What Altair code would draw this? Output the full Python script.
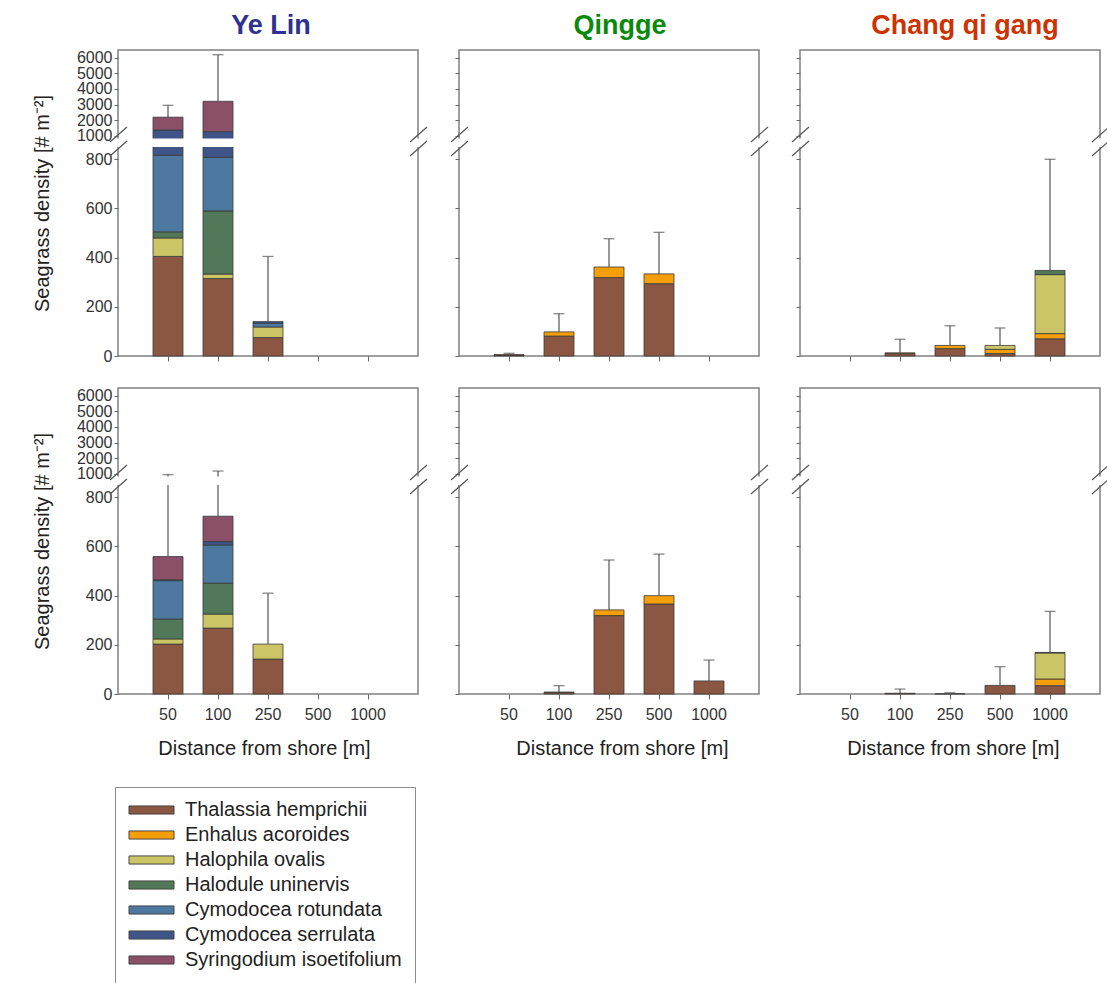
import altair as alt
import pandas as pd

FONT = "Liberation Sans"

SITES = ["Ye Lin", "Qingge", "Chang qi gang"]
SITE_COLORS = ["#2E3192", "#0A8A0A", "#CC3300"]
DISTANCES = ["50", "100", "250", "500", "1000"]
SPECIES = [
    "Thalassia hemprichii",
    "Enhalus acoroides",
    "Halophila ovalis",
    "Halodule uninervis",
    "Cymodocea rotundata",
    "Cymodocea serrulata",
    "Syringodium isoetifolium",
]
SPECIES_COLORS = ["#8B5742", "#F49F0A", "#CBC566", "#52785A", "#4D79A0", "#3F5589", "#8B4F68"]
Y_TICKS = [0, 200, 400, 600, 800, 1000, 2000, 3000, 4000, 5000, 6000]
Y_TITLE = "Seagrass density [# m\u207b\u00b2]"
X_TITLE = "Distance from shore [m]"

# densities per species (order of SPECIES) at 50, 100, 250, 500, 1000 m
YELIN_TOP = [
    [405, 315, 75, 0, 0],
    [0, 0, 0, 0, 0],
    [75, 18, 43, 0, 0],
    [25, 257, 0, 0, 0],
    [312, 218, 15, 0, 0],
    [552, 452, 7, 0, 0],
    [820, 1948, 0, 0, 0],
]
YELIN_TOP_SE = [760, 2990, 265, 0, 0]

QINGGE_TOP = [
    [4, 81, 319, 294, 0],
    [1, 17, 43, 40, 0],
    [0, 0, 0, 0, 0],
    [0, 0, 0, 0, 0],
    [0, 0, 0, 0, 0],
    [0, 0, 0, 0, 0],
    [0, 0, 0, 0, 0],
]
QINGGE_TOP_SE = [6, 74, 115, 169, 0]

CHANG_TOP = [
    [0, 10, 30, 10, 70],
    [0, 3, 13, 17, 21],
    [0, 0, 0, 16, 240],
    [0, 0, 0, 0, 17],
    [0, 0, 0, 0, 0],
    [0, 0, 0, 0, 0],
    [0, 0, 0, 0, 0],
]
CHANG_TOP_SE = [0, 55, 80, 71, 452]

YELIN_BOTTOM = [
    [203, 268, 142, 0, 0],
    [0, 0, 0, 0, 0],
    [21, 57, 61, 0, 0],
    [81, 126, 0, 0, 0],
    [156, 155, 0, 0, 0],
    [4, 14, 0, 0, 0],
    [94, 103, 0, 0, 0],
]
YELIN_BOTTOM_SE = [381, 447, 207, 0, 0]

QINGGE_BOTTOM = [
    [0, 6, 319, 366, 53],
    [0, 2, 23, 34, 0],
    [0, 0, 0, 0, 0],
    [0, 0, 0, 0, 0],
    [0, 0, 0, 0, 0],
    [0, 0, 0, 0, 0],
    [0, 0, 0, 0, 0],
]
QINGGE_BOTTOM_SE = [0, 26, 203, 169, 85]

CHANG_BOTTOM = [
    [0, 3, 1, 35, 34],
    [0, 0, 0, 0, 27],
    [0, 0, 0, 0, 106],
    [0, 0, 0, 0, 0],
    [0, 0, 0, 0, 0],
    [0, 0, 0, 0, 2],
    [0, 0, 0, 0, 0],
]
CHANG_BOTTOM_SE = [0, 17, 4, 76, 167]

PANELS = [
    [(YELIN_TOP, YELIN_TOP_SE), (QINGGE_TOP, QINGGE_TOP_SE), (CHANG_TOP, CHANG_TOP_SE)],
    [(YELIN_BOTTOM, YELIN_BOTTOM_SE), (QINGGE_BOTTOM, QINGGE_BOTTOM_SE), (CHANG_BOTTOM, CHANG_BOTTOM_SE)],
]

W, H = 300, 306
Y_DOMAIN = [0, 850, 851, 6500]
Y_RANGE = [306, 97, 88, 0]
TITLE_DX = [3, 11, 15]
XTITLE_X = [146, 163, 153]

LEGEND = alt.Legend(
    title=None,
    orient="none",
    legendX=-3,
    legendY=737,
    symbolType="M-1,-0.45H4V0.45H-1Z",
    symbolSize=324,
    symbolStrokeColor="#444444",
    symbolStrokeWidth=1,
    symbolOpacity=1,
    labelFontSize=20,
    labelFont=FONT,
    labelColor="#222222",
    labelOffset=37,
    labelLimit=400,
    rowPadding=5,
    padding=13,
    strokeColor="#8c8c8c",
)


def panel(values, se, col, row):
    recs = []
    for si, sp in enumerate(SPECIES):
        for di, d in enumerate(DISTANCES):
            v = values[si][di]
            if v > 0:
                recs.append({"species": sp, "sorder": si, "dist": d, "value": v})
    bars_df = pd.DataFrame(recs)
    erecs = []
    for di, d in enumerate(DISTANCES):
        tot = sum(values[si][di] for si in range(len(SPECIES)))
        if se[di] > 0:
            erecs.append({"dist": d, "total": tot, "top": tot + se[di]})
    err_df = pd.DataFrame(erecs)

    bottom = row == 1
    xscale = alt.Scale(domain=DISTANCES, paddingInner=0.4, paddingOuter=0.7)
    yscale = alt.Scale(domain=Y_DOMAIN, range=Y_RANGE, nice=False, zero=False)
    xaxis = alt.Axis(
        title=X_TITLE if bottom else None,
        labels=bottom,
        labelAngle=0,
        ticks=True,
        tickSize=5,
        tickColor="#666666",
        domain=False,
        labelFontSize=16,
        labelColor="#333333",
        labelPadding=7,
        titleFontSize=20,
        titleFontWeight="normal",
        titleColor="#222222",
        titlePadding=16,
        titleX=XTITLE_X[col],
        grid=False,
    )
    yaxis = alt.Axis(
        values=Y_TICKS,
        format="d",
        title=Y_TITLE if col == 0 else None,
        labels=col == 0,
        ticks=True,
        tickSize=4,
        tickColor="#666666",
        domain=False,
        labelFontSize=16,
        labelColor="#333333",
        labelPadding=2,
        labelOverlap=False,
        labelFlush=False,
        titleFontSize=20,
        titleFontWeight="normal",
        titleColor="#222222",
        titlePadding=24,
        grid=False,
    )
    X = alt.X("dist:N", sort=DISTANCES, scale=xscale, axis=xaxis)

    bars = alt.Chart(bars_df).mark_bar(stroke="#3a3a3a", strokeWidth=0.8).encode(
        x=X,
        y=alt.Y("value:Q", stack="zero", scale=yscale, axis=yaxis),
        color=alt.Color("species:N", scale=alt.Scale(domain=SPECIES, range=SPECIES_COLORS), legend=LEGEND),
        order=alt.Order("sorder:Q", sort="ascending"),
    )
    rule = alt.Chart(err_df).mark_rule(color="#555555", strokeWidth=1.2).encode(
        x=X, y=alt.Y("total:Q", scale=yscale, axis=yaxis), y2="top:Q"
    )
    cap = alt.Chart(err_df).mark_tick(color="#555555", thickness=1.3, size=11, orient="horizontal").encode(
        x=X, y=alt.Y("top:Q", scale=yscale, axis=yaxis)
    )
    one = pd.DataFrame({"k": [0]})
    gap = alt.Chart(one).mark_rect(color="white").encode(
        x=alt.value(-4), x2=alt.value(W + 4), y=alt.value(88.5), y2=alt.value(97)
    )
    breaks = [
        alt.Chart(one).mark_rule(color="#555555", strokeWidth=1.2).encode(
            x=alt.value(bx - 8), x2=alt.value(bx + 9), y=alt.value(by + 7), y2=alt.value(by - 8)
        )
        for bx in (0, W)
        for by in (85, 99)
    ]
    props = dict(width=W, height=H)
    if row == 0:
        props["title"] = alt.TitleParams(
            text=SITES[col],
            color=SITE_COLORS[col],
            font=FONT,
            fontSize=27,
            fontWeight="bold",
            anchor="middle",
            baseline="alphabetic",
            offset=17,
            dx=TITLE_DX[col],
            dy=28,
        )
    return alt.layer(bars, rule, cap, gap, *breaks).properties(**props)


panels = [panel(PANELS[r][c][0], PANELS[r][c][1], c, r) for r in range(2) for c in range(3)]

chart = (
    alt.concat(*panels, columns=3, spacing={"row": 32, "column": 41}, bounds="flush")
    .properties(
        autosize=alt.AutoSizeParams(type="none"),
        padding={"left": 118, "top": 50, "right": 989, "bottom": 933},
    )
    .configure(font=FONT)
    .configure_view(stroke="#808080", strokeWidth=1.5)
)

chart.save("out.html", embed_options={"renderer": "svg", "actions": False})
